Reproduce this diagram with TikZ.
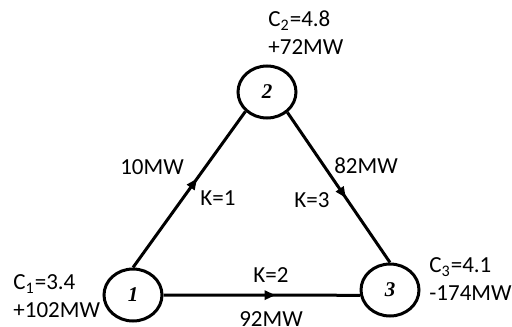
\documentclass[tikz,border=0pt]{standalone}
\usepackage{fontspec}
\setmainfont{Carlito}
\newfontfamily\numfont{Liberation Serif}
\usetikzlibrary{arrows.meta, shapes.geometric, decorations.markings}

\begin{document}
\begin{tikzpicture}[x=0.5pt, y=-0.5pt, font=\fontsize{11.5}{14}\selectfont]
    \tikzset{
        bus/.style={ellipse, draw, line width=1.5pt, minimum width=29pt, minimum height=26pt, inner sep=0pt,
            font=\numfont\bfseries\itshape\fontsize{10.5}{11}\selectfont},
        info/.style={anchor=west, align=left, inner sep=0pt},
        flow/.style={line width=1.5pt, postaction={decorate, decoration={markings,
            mark=at position 0.57 with {\arrow{Triangle[length=5.5pt, width=4.5pt]}}}}}
    }
    \useasboundingbox (0,0) rectangle (512,326);

    % buses
    \node[bus] (n1) at (133,295) {1};
    \node[bus] (n2) at (267,92) {2};
    \node[bus] (n3) at (390,290) {3};

    % lines
    \draw[flow] (n1.north) -- (n2.222);
    \draw[flow] (n2.-45) -- (n3.north);
    \draw[flow] (n1.east) -- (n3.190);

    % bus data
    \node[info] (c1) at (13,296.5) {C\textsubscript{1}=3.4\\+102MW};
    \node[info] (c2) at (268,33) {C\textsubscript{2}=4.8\\+72MW};
    \node[info] (c3) at (429,279) {C\textsubscript{3}=4.1\\-174MW};

    % line data
    \node (p12) at (152,167) {10MW};
    \node (k12) at (218,198) {K=1};
    \node (p23) at (366,166) {82MW};
    \node (k23) at (312,200) {K=3};
    \node (k13) at (271,275) {K=2};
    \node (p13) at (271,319) {92MW};
\end{tikzpicture}
\end{document}
